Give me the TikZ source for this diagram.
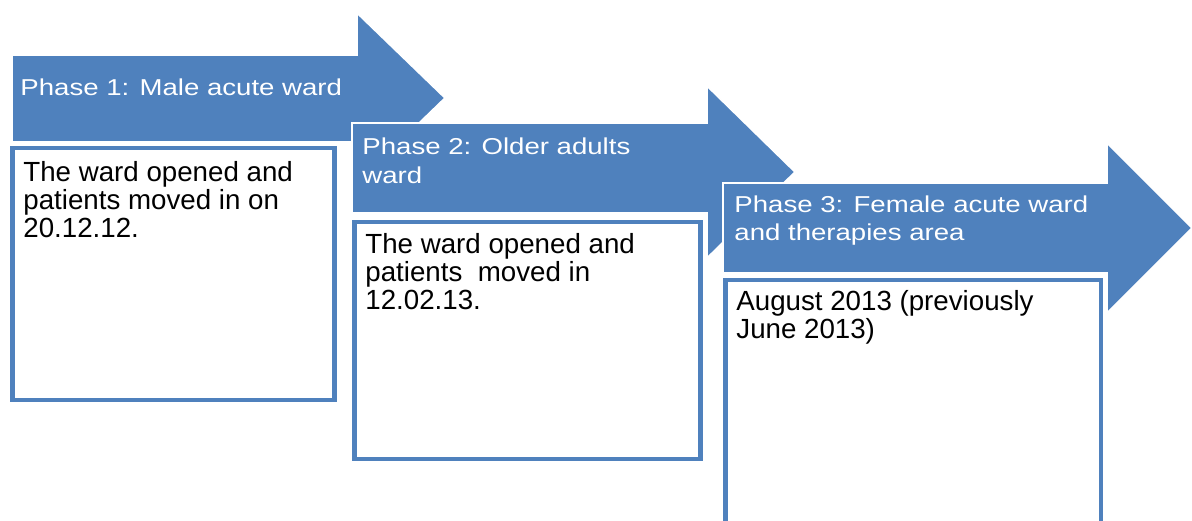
\documentclass[tikz,border=0pt]{standalone}
\usepackage{fontspec}
\setmainfont{Liberation Sans}
\newfontfamily\headfont[FakeStretch=1.2]{Liberation Sans}
\definecolor{phaseblue}{RGB}{79,129,189}

\begin{document}
\begin{tikzpicture}[x=0.5pt, y=-0.5pt,
        phase/.style={fill=phaseblue, draw=white, line width=0.8pt},
        notebox/.style={draw=phaseblue, fill=white, line width=2.4pt},
        headtext/.style={anchor=base west, inner sep=0pt, text=white, align=left,
            font=\headfont\fontsize{11.5}{14.2}\selectfont},
        notetext/.style={anchor=base west, inner sep=0pt, align=left,
            font=\fontsize{13.85}{14.15}\selectfont}]

    \useasboundingbox (0,0) rectangle (1192,520);
    \clip (0,0) rectangle (1192,520);

    % 矢印と枠 (奥から順に)
    \foreach \xa/\ya/\yb/\xh/\yh/\xt/\yt/\bx/\by/\bX/\bY in {
            12/55/142/357/13/445/98/12.5/148/334.5/400,
            352/123/213/707/86/795/172/354.5/222/700.5/459,
            723/183/273/1107/143/1192/228/725.5/280/1101/560} {
        \filldraw[phase] (\xa,\ya) -- (\xh,\ya) -- (\xh,\yh) -- (\xt,\yt)
            -- (\xh,{2*\yt-\yh}) -- (\xh,\yb) -- (\xa,\yb) -- cycle;
        \draw[notebox] (\bx,\by) rectangle (\bX,\bY);
    }

    % 見出し (base は最後の行)
    \node[headtext] (head1) at (20,95) {Phase 1: Male acute ward};
    \node[headtext] (head2) at (362,183) {Phase 2: Older adults\\ward};
    \node[headtext] (head3) at (734,240.5) {Phase 3: Female acute ward\\and therapies area};

    % 本文
    \node[notetext] (note1) at (23,237.6) {The ward opened and\\patients moved in on\\20.12.12.};
    \node[notetext] (note2) at (365,309.6) {The ward opened and\\patients\ \ moved in\\12.02.13.};
    \node[notetext] (note3) at (736,338.3) {August 2013 (previously\\June 2013)};

\end{tikzpicture}
\end{document}
